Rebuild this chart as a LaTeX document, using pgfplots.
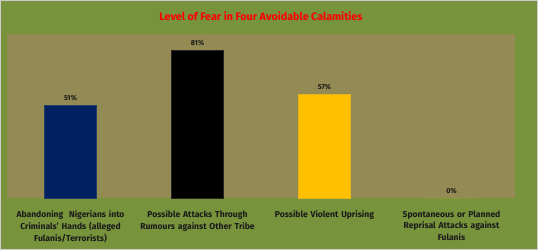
\documentclass[border=0pt]{standalone}
\usepackage{pgfplots}
\pgfplotsset{compat=1.18}
\usepackage{fontspec}
\setmainfont{Fira Sans}
\definecolor{outergreen}{HTML}{77933C}
\definecolor{plotbg}{HTML}{948A54}
\definecolor{navybar}{HTML}{002060}
\definecolor{goldbar}{HTML}{FFC000}
\definecolor{labeltxt}{HTML}{1A1A1A}
\begin{document}
\begin{tikzpicture}[x=1bp,y=1bp]
\fill[outergreen] (0,0) rectangle (538,250);
\draw[gray!40, line width=1.2bp] (0.6,0.6) rectangle (537.4,249.4);
\useasboundingbox (0,0) rectangle (538,250);
\node[text=red, font=\bfseries\fontsize{10.8}{12}\selectfont] at (261,234) {Level of Fear in Four Avoidable Calamities};
\begin{axis}[
  at={(7bp,52bp)}, anchor=south west,
  scale only axis, width=508bp, height=164bp,
  xmin=-0.5, xmax=3.5, ymin=0, ymax=90,
  axis background/.style={fill=plotbg},
  axis line style={draw=none},
  ytick=\empty,
  xtick={0,1,2,3},
  xticklabels={{Abandoning\ \ Nigerians into\\Criminals' Hands (alleged\\Fulanis/Terrorists)},
               {Possible Attacks Through\\Rumours against Other Tribe},
               {Possible Violent Uprising},
               {Spontaneous or Planned\\Reprisal Attacks against\\Fulanis}},
  xticklabel style={align=center, text width=135bp, font=\bfseries\fontsize{8.6}{12}\selectfont, text=labeltxt, yshift=-9bp},
  major tick length=0pt,
  ybar, bar width=52bp, bar shift=0pt,
  /pgf/number format/assume math mode=true,
  nodes near coords={\pgfmathprintnumber{\pgfplotspointmeta}\%},
  nodes near coords style={font=\bfseries\fontsize{7.2}{8}\selectfont, text=labeltxt, yshift=1bp},
  clip=false,
]
\addplot[fill=navybar, draw=navybar!70!gray, line width=0.4bp] coordinates {(0,51)};
\addplot[fill=black, draw=black!70!gray, line width=0.4bp] coordinates {(1,81)};
\addplot[fill=goldbar, draw=goldbar!80!gray, line width=0.4bp] coordinates {(2,57)};
\addplot[fill=goldbar, draw=none] coordinates {(3,0)};
\end{axis}
\end{tikzpicture}
\end{document}
